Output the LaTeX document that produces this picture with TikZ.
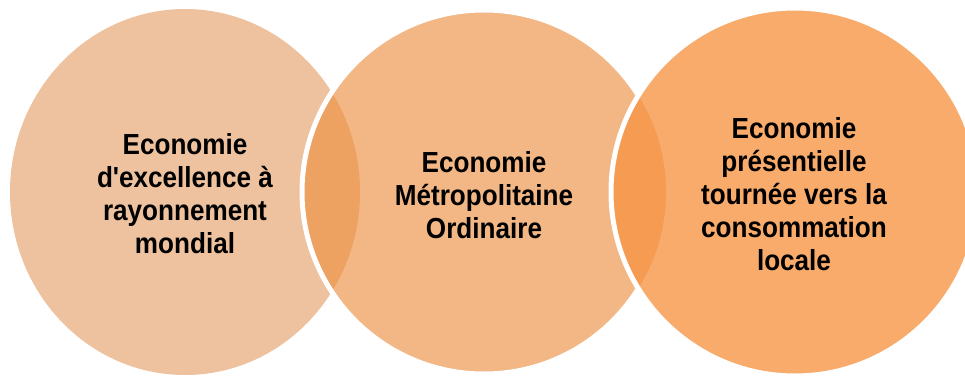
\documentclass[tikz,border=0pt]{standalone}
\usepackage{fontspec}
\setmainfont[FakeStretch=0.9,Ligatures=TeXOff]{Liberation Sans}
\definecolor{cA}{RGB}{238,194,158}
\definecolor{cB}{RGB}{242,183,133}
\definecolor{cC}{RGB}{248,171,106}
\definecolor{lAB}{RGB}{237,162,98}
\definecolor{lBC}{RGB}{245,156,82}
\tikzset{
  lbl/.style={align=center, font=\bfseries\fontsize{29}{33}\selectfont, text=black, inner sep=0pt},
  ring/.style={draw=white, line width=5pt}
}
\begin{document}
\begin{tikzpicture}[x=1pt,y=1pt]
\useasboundingbox (0,0) rectangle (965,376);
\clip (0,0) rectangle (965,376);
% circle 1
\fill[cA] (185,184) ellipse [x radius=175, y radius=183];
% circle 2
\fill[cB] (484,184) circle [radius=182];
\begin{scope}
  \clip (185,184) ellipse [x radius=175, y radius=183];
  \fill[lAB] (484,184) circle [radius=182];
\end{scope}
\draw[ring] (484,184) circle [radius=182];
% circle 3
\fill[cC] (795,184) circle [radius=184];
\begin{scope}
  \clip (484,184) circle [radius=182];
  \fill[lBC] (795,184) circle [radius=184];
\end{scope}
\draw[ring] (795,184) circle [radius=184];
% labels
\node[lbl] (t1) at (185,182) {Economie\\d'excellence à\\rayonnement\\mondial};
\node[lbl] (t2) at (484,181) {Economie\\Métropolitaine\\Ordinaire};
\node[lbl] (t3) at (794,182) {Economie\\présentielle\\tournée vers la\\consommation\\locale};
\end{tikzpicture}
\end{document}
